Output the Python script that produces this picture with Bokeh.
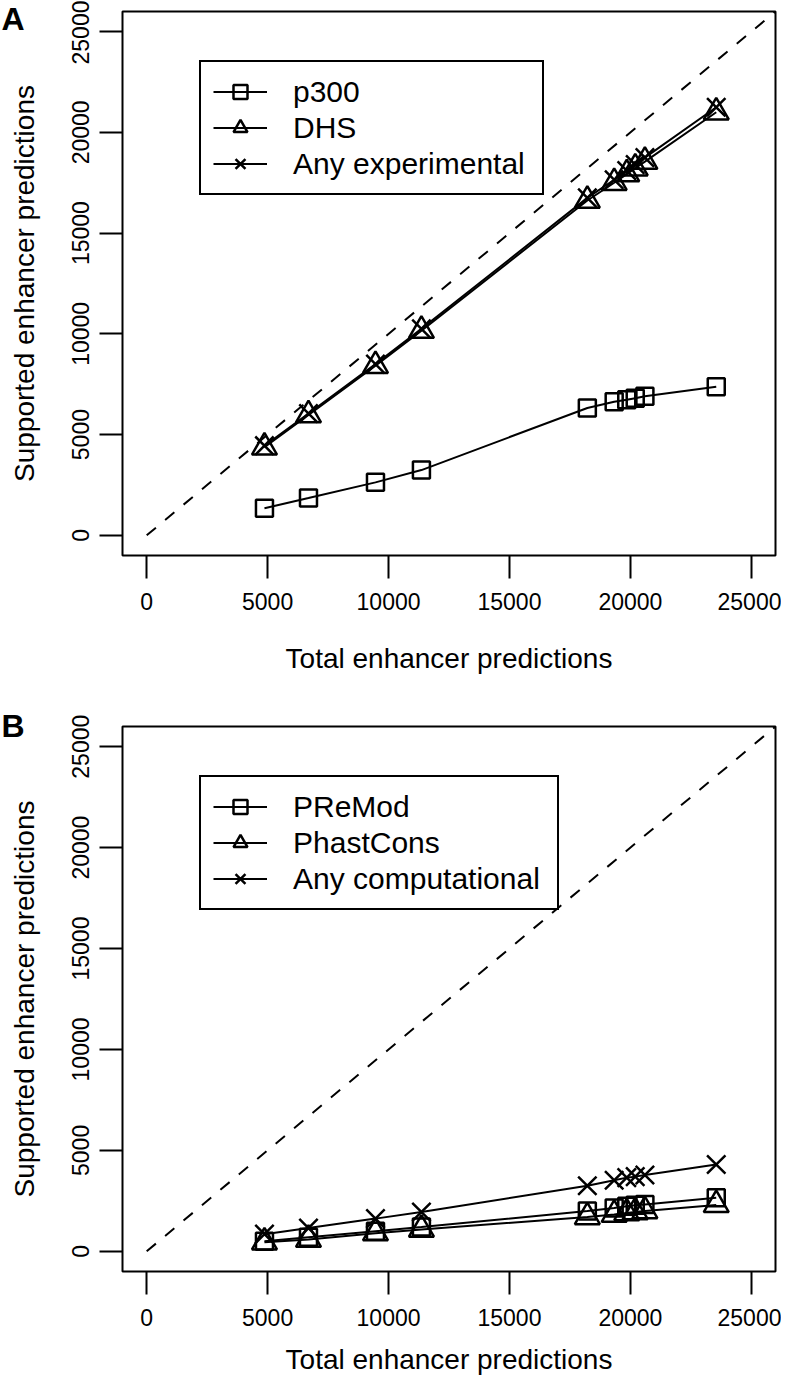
from bokeh.plotting import figure
from bokeh.layouts import column
from bokeh.models import FixedTicker, Legend, LegendItem, Title
from bokeh.embed import file_html
from bokeh.resources import INLINE

# ---- data ----
total = [4870, 6690, 9460, 11360, 18220, 19330, 19850, 20200, 20600, 23550]
p300 = [1350, 1850, 2630, 3240, 6320, 6630, 6730, 6800, 6900, 7380]
dhs = [4370, 5970, 8420, 10160, 16620, 17500, 17930, 18220, 18550, 21000]
any_exp = [4450, 6050, 8500, 10250, 16750, 17650, 18100, 18400, 18750, 21250]
premod = [500, 700, 1000, 1200, 2000, 2150, 2230, 2280, 2320, 2650]
phastcons = [450, 580, 900, 1080, 1700, 1820, 1900, 1950, 2000, 2300]
any_comp = [850, 1150, 1620, 1950, 3250, 3520, 3650, 3700, 3780, 4300]
diag = [0, 26000]
ticks = [0, 5000, 10000, 15000, 20000, 25000]
names_a = ["p300", "DHS", "Any experimental"]
names_b = ["PReMod", "PhastCons", "Any computational"]

FONT = "Liberation Sans"


def make_panel(letter, series, names, top_border, frame_h, bottom_border,
               title_standoff, legend_label_width, letter_standoff):
    p = figure(width=781, height=top_border + frame_h + bottom_border,
               x_range=(-1000, 26000), y_range=(-1000, 26000),
               output_backend="svg", toolbar_location=None,
               min_border_left=122, min_border_right=6,
               min_border_top=top_border, min_border_bottom=bottom_border)
    p.xgrid.visible = False
    p.ygrid.visible = False
    p.outline_line_color = "black"
    p.outline_line_width = 2
    p.background_fill_color = "white"
    p.border_fill_color = "white"

    for ax in (p.xaxis[0], p.yaxis[0]):
        ax.ticker = FixedTicker(ticks=ticks)
        ax.axis_line_color = None
        ax.major_tick_out = 23
        ax.major_tick_in = 0
        ax.major_tick_line_width = 2
        ax.major_tick_line_color = "black"
        ax.minor_tick_line_color = None
        ax.major_label_text_font = FONT
        ax.major_label_text_font_size = "23px"
        ax.major_label_text_color = "black"
        ax.axis_label_text_font = FONT
        ax.axis_label_text_font_size = "28px"
        ax.axis_label_text_font_style = "normal"
        ax.axis_label_text_color = "black"
    p.xaxis[0].axis_label = "Total enhancer predictions"
    p.yaxis[0].axis_label = "Supported enhancer predictions"
    p.xaxis[0].major_label_standoff = 14
    p.xaxis[0].axis_label_standoff = title_standoff
    p.yaxis[0].major_label_orientation = "vertical"
    p.yaxis[0].major_label_standoff = 10
    p.yaxis[0].axis_label_standoff = 30

    p.line(diag, diag, line_color="black", line_width=2, line_dash="12 12")

    markers = ["square", "triangle", "x"]
    sizes = [17, 25, 26]
    items = []
    for vals, name, mk, sz in zip(series, names, markers, sizes):
        ln = p.line(total, vals, line_color="black", line_width=2)
        sc = p.scatter(total, vals, marker=mk, size=sz, line_color="black",
                       line_width=2.5, fill_color=None)
        items.append(LegendItem(label=name, renderers=[ln, sc]))

    leg = Legend(items=items, location=(77, frame_h - 53 - 131), margin=0,
                 padding=12, spacing=1, glyph_width=54, glyph_height=35,
                 label_height=35, label_width=legend_label_width,
                 label_standoff=26, label_text_font=FONT,
                 label_text_font_size="30px", label_text_color="black",
                 border_line_color="black", border_line_width=2,
                 border_line_alpha=1.0,
                 background_fill_color="white", background_fill_alpha=1)
    p.add_layout(leg, "center")

    p.add_layout(Title(text=letter, text_font=FONT, text_font_size="32px",
                       text_font_style="bold", text_color="black",
                       align="left", vertical_align="bottom",
                       offset=-121, standoff=letter_standoff), "above")
    return p


pa = make_panel("A", [p300, dhs, any_exp], names_a, 11, 544, 141, 30, 237,
                -50)
pb = make_panel("B", [premod, phastcons, any_comp], names_b, 30, 545, 111,
                15, 252, -34)

layout = column(pa, pb, spacing=0)
open("out.html", "w").write(file_html(layout, INLINE))
